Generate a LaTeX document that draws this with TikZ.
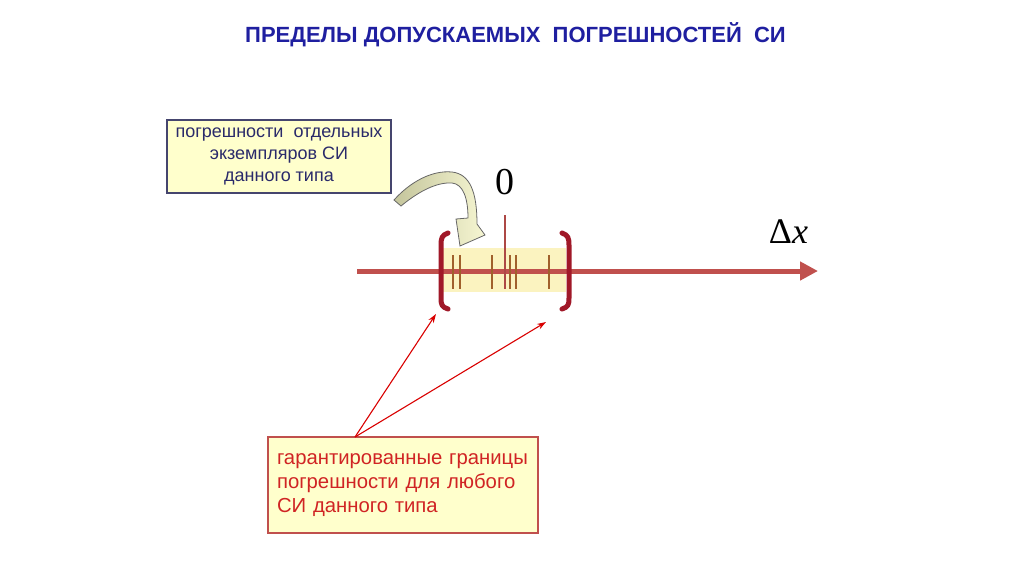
\documentclass[tikz,border=0pt]{standalone}
\usepackage{fontspec}
\setmainfont{Liberation Sans}
\newfontfamily\timesf{Liberation Serif}
\usetikzlibrary{arrows.meta}
\definecolor{titleblue}{HTML}{1F1FA0}
\definecolor{axisred}{HTML}{C0504D}
\definecolor{brackred}{HTML}{A01828}
\definecolor{tickbrown}{HTML}{A0602C}
\definecolor{boxyellow}{HTML}{FFFFCC}
\definecolor{hiyellow}{HTML}{FBF3C0}
\definecolor{navytext}{HTML}{2A2A6A}
\definecolor{navyborder}{HTML}{45456E}
\definecolor{khaki}{HTML}{C4C59C}
\definecolor{lightkhaki}{HTML}{F6F6D2}
\definecolor{redtext}{HTML}{D02424}
\begin{document}
\begin{tikzpicture}[x=1pt,y=-1pt,
  infobox/.style={draw=navyborder,line width=1.2pt,fill=boxyellow,text=navytext,align=center,font=\fontsize{18}{22}\selectfont,inner sep=0pt},
  notebox/.style={draw=axisred,line width=1.2pt,fill=boxyellow,text=redtext,align=left,font=\fontsize{20.3}{24}\selectfont,inner sep=0pt},
  tickmark/.style={draw=tickbrown,line width=1.6pt},
  bracket/.style={draw=brackred,line width=5pt,line cap=round,line join=round},
  pointer/.style={draw=red!85!black,line width=1.1pt,-{Stealth[length=9pt,width=6pt]}}
]
\useasboundingbox (0,0) rectangle (1024,574);
% title
\node[font=\fontsize{22}{24}\selectfont\bfseries,text=titleblue] (title) at (515.5,35) {ПРЕДЕЛЫ ДОПУСКАЕМЫХ \ ПОГРЕШНОСТЕЙ \ СИ};
% info box
\node[infobox,minimum width=224pt,minimum height=73pt] (info) at (279,156.5) {погрешности \ отдельных\\экземпляров СИ\\данного типа};
% highlight
\fill[hiyellow] (441,248) rectangle (566,292);
% axis
\coordinate (axL) at (357,271);
\coordinate (axR) at (818,271);
\draw[axisred,line width=5pt,-{Triangle[length=18pt,width=18pt]}] (axL) -- (axR);
% ticks
\foreach \t in {453,460,492,510,516,549}{\draw[tickmark] (\t,255) -- (\t,289);}
\draw[axisred!90!black,line width=1.6pt] (505,215) -- (505,289);
% brackets
\draw[bracket] (448,233) .. controls (442,235) and (441,238) .. (441,245) -- (441,298) .. controls (441,305) and (442,307) .. (448,309);
\draw[bracket] (562,233) .. controls (568,235) and (569,238) .. (569,245) -- (569,298) .. controls (569,305) and (568,307) .. (562,309);
% labels
\node[font=\timesf\fontsize{38}{38}\selectfont,anchor=base] (zero) at (504.5,194) {0};
\node[font=\timesf\fontsize{36}{36}\selectfont,anchor=base] (dx) at (788.5,243) {Δ\textit{x}};
% curved block arrow
\draw[gray!80!black,line width=0.8pt,left color=khaki,right color=lightkhaki]
  (394,200) .. controls (410,182) and (432,170) .. (452,172)
  .. controls (470,174) and (477,192) .. (477,224)
  -- (485,235) -- (460,246) -- (456,219) -- (468,218)
  .. controls (468,198) and (463,184) .. (452,183)
  .. controls (436,182) and (418,192) .. (401,206) -- cycle;
% note box
\node[notebox,minimum width=270pt,minimum height=96pt,text width=252pt] (note) at (403,485) {гарантированные границы\\погрешности для любого\\СИ данного типа};
\coordinate (tipL) at (436,314);
\coordinate (tipR) at (546,322);
\coordinate (src) at (355,437);
\draw[pointer] (src) -- (tipL);
\draw[pointer] (src) -- (tipR);
\end{tikzpicture}
\end{document}
